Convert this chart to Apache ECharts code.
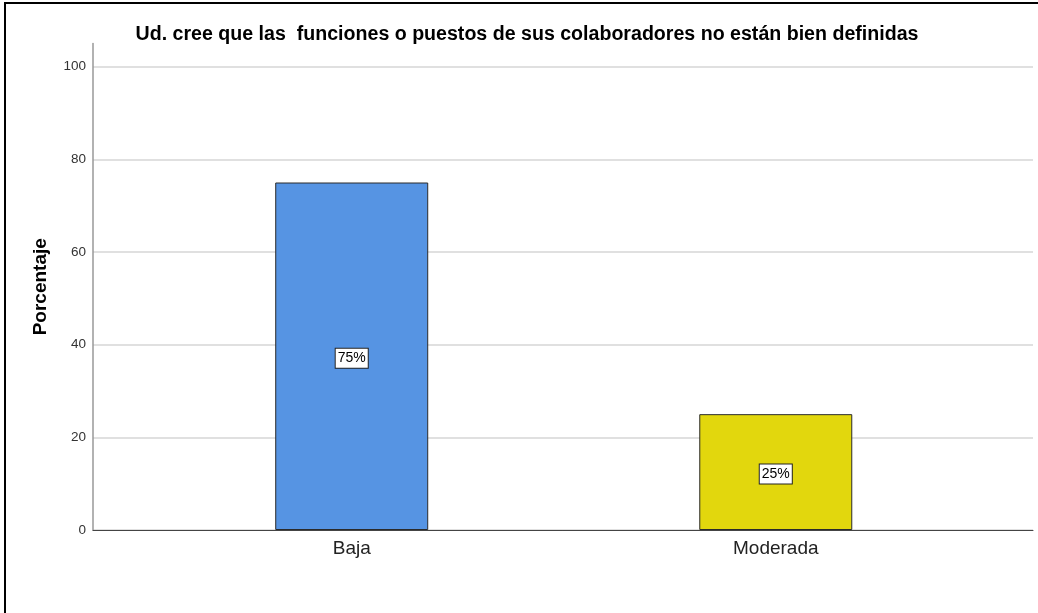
<!DOCTYPE html>
<html>
<head>
<meta charset="utf-8">
<script src="https://cdn.jsdelivr.net/npm/echarts@6/dist/echarts.min.js"></script>
<style>
html,body{margin:0;padding:0;background:#fff;}
#c{width:1038px;height:613px;position:relative;}
</style>
</head>
<body>
<div id="c"></div>
<script>
const titleText = 'Ud. cree que las  funciones o puestos de sus colaboradores no están bien definidas';
const categories = ['Baja', 'Moderada'];
const values = [75, 25];
const barColors = ['#5694E3', '#E2D70D'];
const yTicks = [0, 20, 40, 60, 80, 100];
const yMax = 105;

const chart = echarts.init(document.getElementById('c'), null, {renderer: 'canvas'});
const font = 'Arial, "Liberation Sans", sans-serif';
chart.setOption({
  backgroundColor: '#fff',
  animation: false,
  title: {
    text: titleText,
    left: 522, top: 20, textAlign: 'center',
    textStyle: {fontFamily: font, fontSize: 19.6, fontWeight: 'bold', color: '#000'}
  },
  grid: [
    {left: 93, right: 5, top: 43.5, bottom: 83},
    {left: 139.7, right: 50.2, top: 43.5, bottom: 83}
  ],
  xAxis: [
    {gridIndex: 0, type: 'category', data: [''], axisLine: {show: true, lineStyle: {color: '#444', width: 1}},
     axisTick: {show: false}, axisLabel: {show: false}, splitLine: {show: false}},
    {gridIndex: 1, type: 'category', data: categories, axisLine: {show: false}, axisTick: {show: false},
     axisLabel: {fontFamily: font, fontSize: 19, color: '#222', margin: 9}}
  ],
  yAxis: [
    {gridIndex: 0, type: 'value', min: 0, max: yMax, interval: 20,
     name: 'Porcentaje', nameLocation: 'middle', nameGap: 43, nameRotate: 90,
     nameTextStyle: {fontFamily: font, fontSize: 19, fontWeight: 'bold', color: '#000'},
     axisLine: {show: true, lineStyle: {color: '#999', width: 1.5}},
     axisTick: {show: false},
     axisLabel: {fontFamily: font, fontSize: 13.5, color: '#333', margin: 7, showMaxLabel: false,
       formatter: v => yTicks.includes(v) ? String(v) : ''},
     splitLine: {show: true, showMaxLine: false, lineStyle: {color: '#d6d6d6', width: 1.5}}},
    {gridIndex: 1, type: 'value', min: 0, max: yMax, show: false, splitLine: {show: false}}
  ],
  series: [{
    type: 'bar', xAxisIndex: 1, yAxisIndex: 1,
    barWidth: 153,
    data: values.map((v, i) => ({value: v, itemStyle: {color: barColors[i]}})),
    itemStyle: {borderColor: '#2a2a2a', borderWidth: 1},
    label: {
      show: true, position: 'inside', formatter: '{c}%', offset: [0, 2],
      fontFamily: font, fontSize: 14, color: '#000',
      backgroundColor: '#fff', borderColor: '#222', borderWidth: 1,
      padding: [3, 2, 2, 2]
    }
  }]
});
</script>
<div style="position:absolute;left:4px;top:2px;width:1034px;height:611px;border-left:2px solid #000;border-top:2px solid #000;pointer-events:none;"></div>
</body>
</html>
